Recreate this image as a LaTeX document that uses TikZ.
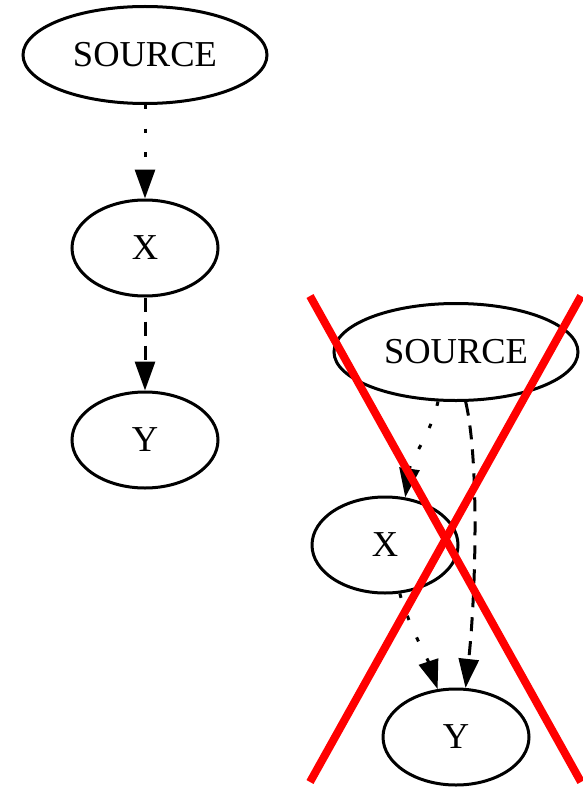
\documentclass[tikz,border=0pt]{standalone}
\usepackage{fontspec}
\setmainfont{Liberation Serif}
\usetikzlibrary{shapes.geometric,arrows.meta}
\begin{document}
\begin{tikzpicture}[x=1pt,y=-1pt,
  gnode/.style={draw, ellipse, line width=3pt, inner sep=0pt,
    font=\fontsize{36.5}{40}\selectfont},
  srcnode/.style={gnode, minimum width=244pt, minimum height=97pt},
  varnode/.style={gnode, minimum width=146pt, minimum height=96pt},
  edge/.style={line width=3pt, -{Triangle[length=29pt,width=20pt]}},
  dotedge/.style={edge, dash pattern=on 4.5pt off 19pt},
  dashedge/.style={edge, dash pattern=on 14pt off 10pt},
  cross/.style={red, line width=8pt}]
\useasboundingbox (0,0) rectangle (583,797);

% first graph: a plain chain
\node[srcnode] (lS) at (145,55) {SOURCE};
\node[varnode] (lX) at (145,248) {X};
\node[varnode] (lY) at (145,440) {Y};
\draw[dotedge] (lS) -- (lX);
\draw[dashedge] (lX) -- (lY);

% second graph: source feeding both X and Y
\node[srcnode] (rS) at (456,352) {SOURCE};
\node[varnode] (rX) at (385,545) {X};
\node[varnode] (rY) at (456,737) {Y};
\draw[dotedge] (rS.250) .. controls +(-8,35) and +(6,-40) .. (rX.67);
\draw[dashedge] (rS.281) .. controls +(14,60) and +(10,-90) .. (rY.79);
\draw[dotedge] (rX.287) .. controls +(8,30) and +(-10,-30) .. (rY.111);

% red cross over the second graph
\coordinate (c1) at (310,296);
\coordinate (c2) at (581,782);
\coordinate (c3) at (310,782);
\coordinate (c4) at (581,296);
\draw[cross] (c1) -- (c2);
\draw[cross] (c3) -- (c4);
\end{tikzpicture}
\end{document}
